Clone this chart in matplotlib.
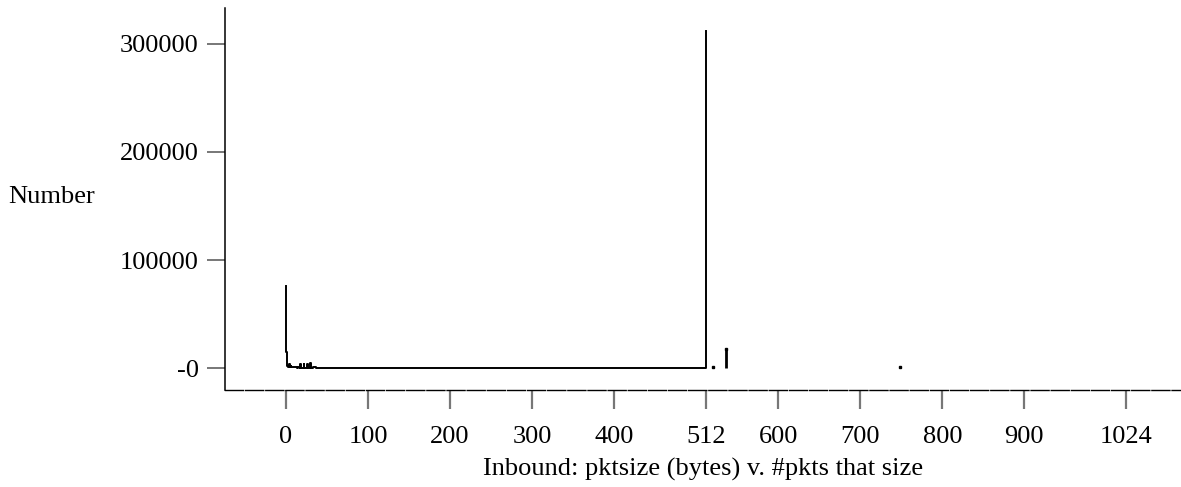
import numpy as np
import matplotlib
matplotlib.use('Agg')
import matplotlib.pyplot as plt

plt.rcParams['font.family'] = 'serif'
plt.rcParams['font.serif'] = ['Liberation Serif', 'DejaVu Serif']

# packet size histogram, contiguous run of sizes up to 512 bytes
pkt_sizes = [0, 1, 2, 3, 4, 5, 6, 7, 8, 10, 12, 14, 16, 17, 18, 19, 21, 22, 23,
             25, 26, 27, 29, 30, 31, 34, 40, 48, 56, 64, 80, 100, 150, 200, 250,
             300, 350, 400, 450, 500, 510, 511, 512]
pkt_counts = [76000, 15000, 1500, 800, 3500, 600, 2000, 500, 900, 500, 700, 400,
              500, 400, 4000, 400, 400, 4000, 400, 400, 3500, 400, 400, 5000, 400,
              600, 300, 300, 300, 300, 300, 300, 300, 300, 300, 300, 300, 300, 300,
              300, 300, 300, 312000]

# the few sizes above 512 that showed up
odd_sizes = [521, 536, 748]
odd_counts = [600, 17600, 500]

x_ticks = [0, 100, 200, 300, 400, 512, 600, 700, 800, 900, 1024]
y_ticks = [0, 100000, 200000, 300000]
y_tick_labels = ['-0', '100000', '200000', '300000']

font_size = 19

fig = plt.figure(figsize=(11.81, 4.87), dpi=100)
ax = fig.add_axes([225 / 1181, 97 / 487, 956 / 1181, 382 / 487])

ax.plot(pkt_sizes, pkt_counts, '-', color='k', lw=1.4, drawstyle='steps-mid')
ax.vlines(odd_sizes, 0, odd_counts, color='k', lw=2)
ax.plot(odd_sizes, odd_counts, 's', color='k', markersize=1.5)

ax.set_xlim(-74.4, 1091)
ax.set_ylim(-20370, 333333)

ax.set_xticks(x_ticks)
ax.set_xticklabels([str(t) for t in x_ticks], fontsize=font_size)
ax.set_yticks(y_ticks)
ax.set_yticklabels(y_tick_labels, fontsize=font_size)

ax.tick_params(axis='x', direction='out', length=14, width=1.6, color='#777777', pad=12)
ax.tick_params(axis='y', direction='out', length=13, width=1.4, color='#777777', pad=6)

for side in ['top', 'right']:
    ax.spines[side].set_visible(False)
ax.spines['left'].set_linewidth(1.1)
ax.spines['bottom'].set_linewidth(1.0)
ax.spines['bottom'].set_linestyle((0, (13, 1.5)))

ax.set_xlabel('Inbound: pktsize (bytes) v. #pkts that size', fontsize=font_size, labelpad=7)
fig.text(8 / 1181, 1 - 197 / 487, 'Number', fontsize=font_size, ha='left', va='center')

fig.savefig('out.png', dpi=100)
